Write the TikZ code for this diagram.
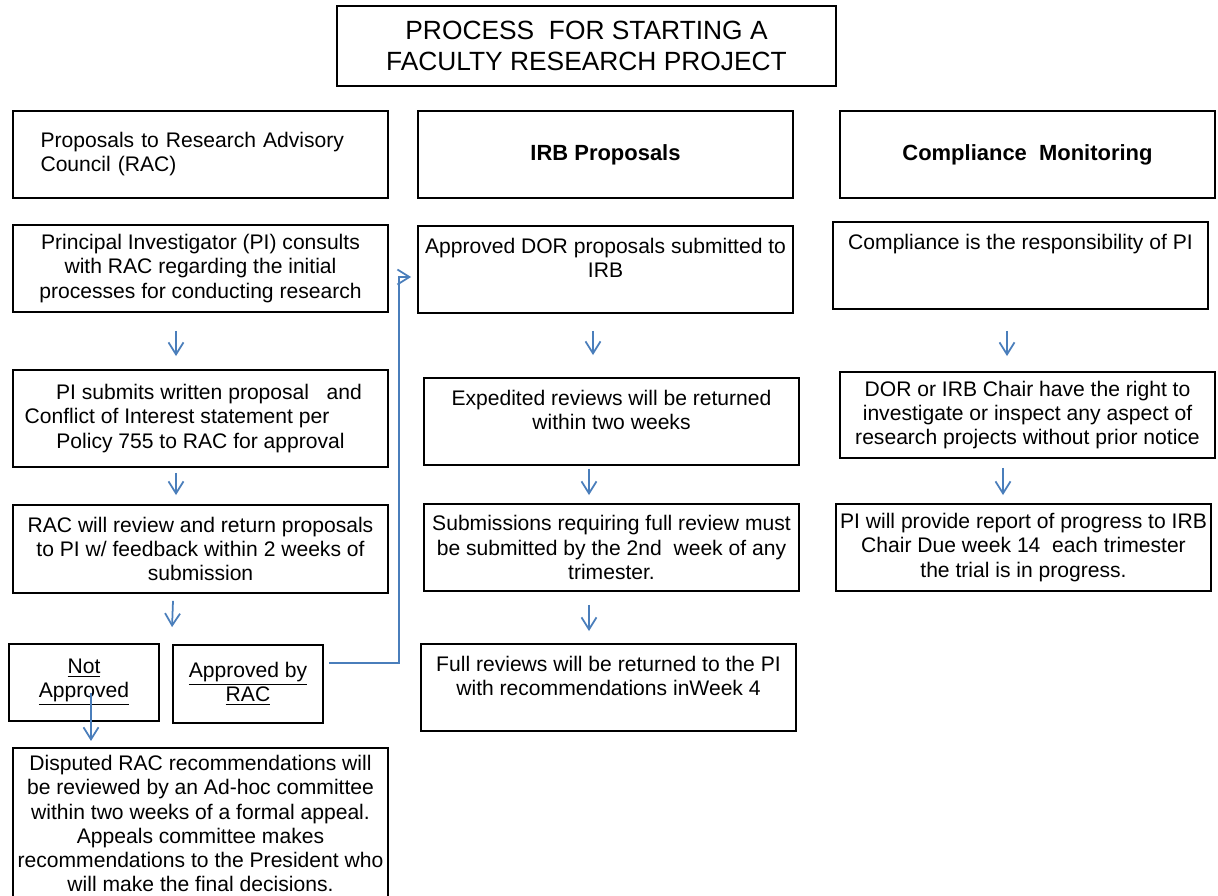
\documentclass[tikz,border=0pt]{standalone}
\usepackage{fontspec}
\setmainfont{Liberation Sans}
\usepackage{tikz}
\definecolor{arrowblue}{RGB}{74, 126, 187}
\usetikzlibrary{arrows.meta, positioning, calc}
\newcommand{\bodytext}{\fontsize{12}{13.7}\selectfont}

\begin{document}
\begin{tikzpicture}[
    x=0.02cm, y=-0.02cm,
    box/.style={rectangle, draw=black, line width=1.1pt, minimum width=7.5cm, minimum height=1.74cm,
                inner sep=0pt, align=center, font=\bodytext},
    headbox/.style={box, font=\fontsize{12.5}{14}\selectfont\bfseries},
    decision/.style={box, minimum width=3cm, minimum height=1.54cm},
    flow/.style={draw=arrowblue, line width=1pt, -{Straight Barb[length=2.4mm, width=3mm]}}
]
    \useasboundingbox[fill=white] (0,0) rectangle (1218,896);

    \node[box, minimum width=9.98cm, minimum height=1.6cm, font=\fontsize{15}{17.2}\selectfont] (title) at (586.5,46) {PROCESS\ \ FOR STARTING A\\FACULTY RESEARCH PROJECT};

    \node[box, align=left, text width=6.4cm] (rac) at (200.5,154.5) {Proposals to Research Advisory\\Council (RAC)};
    \node[headbox] (irb) at (605.5,154.5) {IRB Proposals};
    \node[headbox] (comp) at (1027.5,154.5) {Compliance\ \ Monitoring};

    \node[box] (consult) at (200.5,268.5) {Principal Investigator (PI) consults\\with RAC regarding the initial\\processes for conducting research};
    \node[box, minimum height=1.94cm] (submit) at (200.5,418.5) {\hspace*{0.34cm}PI submits written proposal\ \ \ and\\Conflict of Interest statement per\phantom{nnnn}\\Policy 755 to RAC for approval};
    \node[box, minimum height=1.76cm] (review) at (200.5,549) {RAC will review and return proposals\\to PI w/ feedback within 2 weeks of\\submission};
    \node[decision] (notok) at (84,682.5) {\underline{Not}\\\underline{Approved}};
    \node[decision, minimum height=1.56cm] (ok) at (248,684) {\underline{Approved by}\\\underline{RAC}};
    \node[box, minimum height=3.02cm] (appeal) at (200.5,823.5) {Disputed RAC recommendations will\\be reviewed by an Ad-hoc committee\\within two weeks of a formal appeal.\\Appeals committee makes\\recommendations to the President who\\will make the final decisions.};

    \node[box] (irbsub) at (605.5,269.5) {Approved DOR proposals submitted to\\IRB\\\mbox{}};
    \node[box] (expedite) at (611.5,421.5) {Expedited reviews will be returned\\within two weeks\\\mbox{}};
    \node[box] (fullsub) at (611.5,547.5) {Submissions requiring full review must\\be submitted by the 2nd\ \ week of any\\trimester.};
    \node[box] (fullret) at (608.5,687.5) {Full reviews will be returned to the PI\\with recommendations inWeek 4\\\mbox{}};

    \node[box] (resp) at (1020.5,265.5) {Compliance is the responsibility of PI\\\mbox{}\\\mbox{}};
    \node[box, minimum height=1.72cm] (inspect) at (1027.5,415) {DOR or IRB Chair have the right to\\investigate or inspect any aspect of\\research projects without prior notice};
    \node[box] (report) at (1023.5,547.5) {PI will provide report of progress to IRB\\Chair Due week 14\ \ each trimester\\the trial is in progress.};

    \draw[flow] ($(consult.south)+(-24.5,18)$) -- ($(submit.north)+(-24.5,-13)$);
    \draw[flow] ($(submit.south)+(-24.5,5)$) -- ($(review.north)+(-24.5,-9)$);
    \draw[flow] ($(review.south)+(-27.5,7)$) -- ($(ok.north west)+(0,-17)$);
    \draw[flow] ($(notok.center)+(7,10.5)$) -- ($(notok.south)+(7,19)$);
    \draw[flow] ($(ok.east)+(5,-21)$) -| ($(irbsub.west)+(-18,7.5)$) -- ($(irbsub.west)+(-6,7.5)$);

    \draw[flow] ($(irbsub.south)+(-12.5,17)$) -- ($(expedite.north)+(-18.5,-22)$);
    \draw[flow] ($(expedite.south)+(-22.5,3)$) -- ($(fullsub.north)+(-22.5,-8)$);
    \draw[flow] ($(fullsub.south)+(-22.5,13)$) -- ($(fullret.north)+(-19.5,-12)$);

    \draw[flow] ($(resp.south)+(-13.5,21)$) -- ($(inspect.north)+(-20.5,-15)$);
    \draw[flow] ($(inspect.south)+(-24.5,9)$) -- ($(report.north)+(-20.5,-8)$);
\end{tikzpicture}
\end{document}
